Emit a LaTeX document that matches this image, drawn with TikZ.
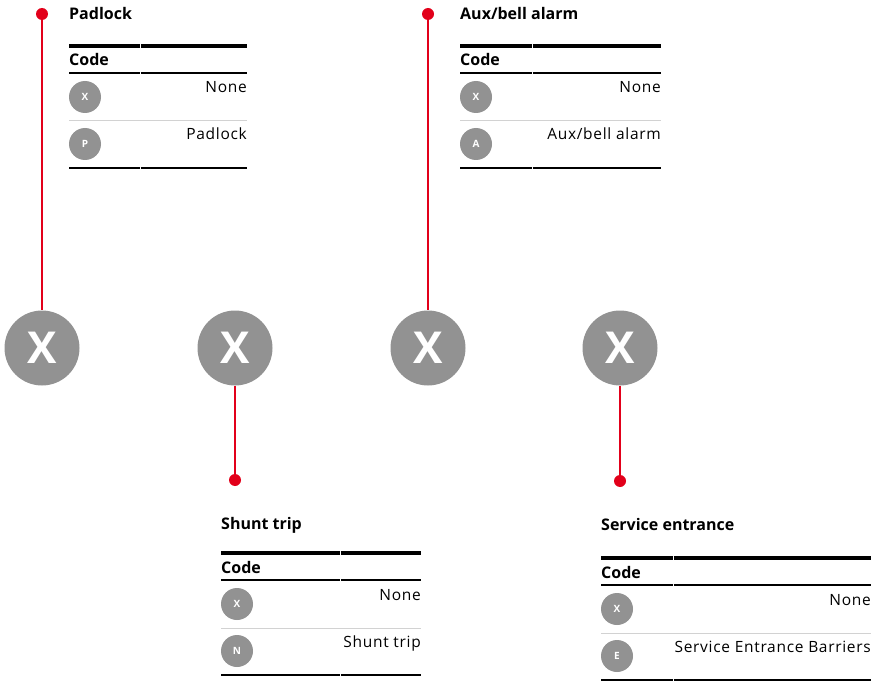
\documentclass[tikz,border=0pt]{standalone}
\usepackage{fontspec}
\setmainfont{Open Sans}
\newfontfamily\rowfont[LetterSpace=4.5]{Open Sans}
\definecolor{abbred}{RGB}{226,0,26}
\definecolor{cgray}{RGB}{146,146,146}
\definecolor{sepgray}{RGB}{210,210,210}
\tikzset{
  bigc/.style={circle,fill=cgray,minimum size=75pt,inner sep=0pt,text=white,font=\fontsize{44}{44}\selectfont\bfseries},
  smallc/.style={circle,fill=cgray,minimum size=32pt,inner sep=0pt,text=white,font=\fontsize{10}{10}\selectfont\bfseries},
  reddot/.style={circle,fill=abbred,minimum size=12pt,inner sep=0pt},
  redline/.style={draw=abbred,line width=2.6pt},
  ttl/.style={anchor=base west,inner sep=0pt,font=\fontsize{16}{16}\selectfont\bfseries},
  codetxt/.style={anchor=base west,inner sep=0pt,font=\fontsize{16}{16}\selectfont\bfseries},
  rowtxt/.style={anchor=base east,inner sep=0pt,font=\rowfont\fontsize{15.5}{15.5}\selectfont},
  thickrule/.style={line width=4.5pt},
  midrule/.style={line width=2.5pt},
  seprule/.style={draw=sepgray,line width=1pt},
}
% #1 name, #2 left x, #3 right x, #4 top rule y, #5 title, #6 code1, #7 code2, #8 text2, #9 title baseline y
% \mygap = x of the column break in the rules
\newcommand\mygap{140}
\newcommand\mycodetable[9]{%
  \node[ttl] (#1t) at (#2,#9) {#5};
  \draw[thickrule] (#2,#4) -- (\mygap-0.5,#4);
  \draw[thickrule] (\mygap+0.5,#4) -- (#3,#4);
  \node[codetxt] (#1code) at (#2,#4+20) {Code};
  \draw[midrule] (#2,#4+27) -- (\mygap-0.5,#4+27);
  \draw[midrule] (\mygap+0.5,#4+27) -- (#3,#4+27);
  \node[smallc] (#1a) at (#2+16,#4+51) {#6};
  \node[rowtxt] (#1at) at (#3,#4+47) {None};
  \draw[seprule] (#2,#4+75) -- (#3,#4+75);
  \node[smallc] (#1b) at (#2+16,#4+98) {#7};
  \node[rowtxt] (#1bt) at (#3,#4+94) {#8};
  \draw[midrule] (#2,#4+122) -- (\mygap-0.5,#4+122);
  \draw[midrule] (\mygap+0.5,#4+122) -- (#3,#4+122);
}
\begin{document}
\begin{tikzpicture}[x=1pt,y=-1pt]
\useasboundingbox (0,0) rectangle (871,682);
% big circles
\node[bigc] (c1) at (42,348) {X};
\node[bigc] (c2) at (235,348) {X};
\node[bigc] (c3) at (428,348) {X};
\node[bigc] (c4) at (620,348) {X};
% dots
\node[reddot] (d1) at (42,14) {};
\node[reddot] (d2) at (235,480) {};
\node[reddot] (d3) at (428,14) {};
\node[reddot] (d4) at (620,481) {};
\draw[redline] (d1) -- (c1);
\draw[redline] (c2) -- (d2);
\draw[redline] (d3) -- (c3);
\draw[redline] (c4) -- (d4);
% tables
\renewcommand\mygap{140}
\mycodetable{pad}{69}{247}{46}{Padlock}{X}{P}{Padlock}{20}
\renewcommand\mygap{532}
\mycodetable{aux}{460}{661}{46}{Aux/bell alarm}{X}{A}{Aux/bell alarm}{20}
\renewcommand\mygap{340}
\mycodetable{shu}{221}{421}{553}{Shunt trip}{X}{N}{Shunt trip}{529.5}
\renewcommand\mygap{673}
\mycodetable{ser}{601}{871}{558}{Service entrance}{X}{E}{Service Entrance Barriers}{530.5}
\end{tikzpicture}
\end{document}
